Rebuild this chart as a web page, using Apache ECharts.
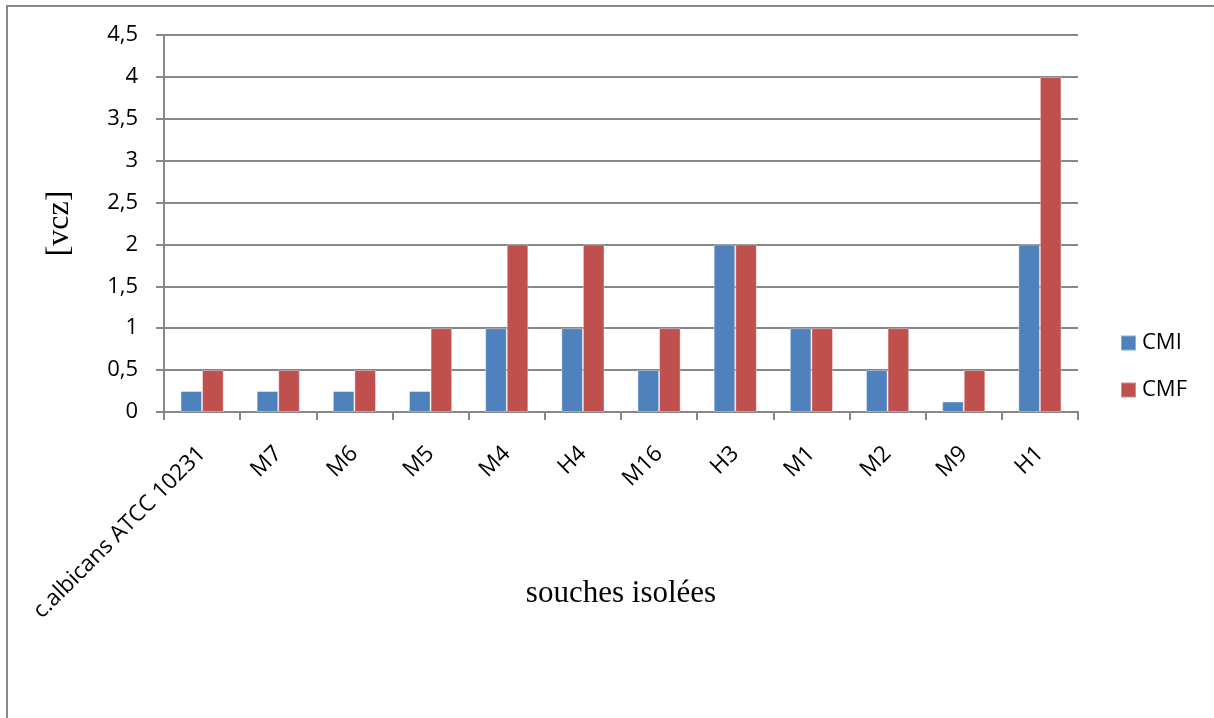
<!DOCTYPE html>
<html>
<head>
<meta charset="utf-8">
<script src="https://cdn.jsdelivr.net/npm/echarts@6/dist/echarts.min.js"></script>
<style>
html,body{margin:0;padding:0;background:#fff;}
#chart{width:1214px;height:718px;}
</style>
</head>
<body>
<div id="chart"></div>
<script>
const categories = ['c.albicans ATCC 10231','M7','M6','M5','M4','H4','M16','H3','M1','M2','M9','H1'];
const cmiValues = [0.25,0.25,0.25,0.25,1,1,0.5,2,1,0.5,0.125,2];
const cmfValues = [0.5,0.5,0.5,1,2,2,1,2,1,1,0.5,4];
const seriesNames = ['CMI','CMF'];
const yAxisTitle = '[vcz]';
const xAxisTitle = 'souches isolées';

const chart = echarts.init(document.getElementById('chart'));
const labelFont = '"Open Sans", Lato, sans-serif';
const serifFont = '"Liberation Serif", "Times New Roman", serif';
const grey = '#878787';
chart.setOption({
  animation: false,
  backgroundColor: '#fff',
  graphic: [{
    type: 'rect',
    shape: {x: 7, y: 6, width: 1230, height: 740},
    style: {fill: 'none', stroke: '#888', lineWidth: 2},
    silent: true
  }],
  legend: {
    orient: 'vertical',
    right: 22,
    top: 327,
    itemWidth: 15,
    itemHeight: 15,
    itemGap: 25,
    icon: 'rect',
    textStyle: {fontFamily: labelFont, fontSize: 22, color: '#000', padding: [0,0,0,1]},
    data: seriesNames
  },
  grid: {left: 164, right: 136, top: 35, bottom: 306, containLabel: false},
  xAxis: {
    type: 'category',
    data: categories,
    boundaryGap: true,
    axisLine: {lineStyle: {color: grey, width: 2}},
    axisTick: {show: true, length: 8, lineStyle: {color: grey, width: 2}, alignWithLabel: false},
    axisLabel: {rotate: 45, interval: 0, margin: 38, fontFamily: labelFont, fontSize: 22.5, color: '#000'},
    name: xAxisTitle,
    nameLocation: 'middle',
    nameGap: 166,
    nameMoveOverlap: false,
    nameTextStyle: {fontFamily: serifFont, fontSize: 31, color: '#000'}
  },
  yAxis: {
    type: 'value',
    min: 0, max: 4.5, interval: 0.5,
    axisLine: {show: true, lineStyle: {color: grey, width: 2}},
    axisTick: {show: true, length: 8, lineStyle: {color: grey, width: 2}},
    splitLine: {lineStyle: {color: grey, width: 2}},
    axisLabel: {margin: 26, fontFamily: labelFont, fontSize: 22, color: '#000',
      formatter: v => String(v).replace('.', ',')},
    name: yAxisTitle,
    nameLocation: 'middle',
    nameGap: 88,
    nameRotate: 90,
    nameMoveOverlap: false,
    nameTextStyle: {fontFamily: serifFont, fontSize: 32, color: '#000'}
  },
  series: [
    {name: seriesNames[0], type: 'bar', data: cmiValues, barWidth: '28.3%', barGap: '0%',
     itemStyle: {color: '#4F81BD', borderColor: 'rgba(255,255,255,0.35)', borderWidth: 1}},
    {name: seriesNames[1], type: 'bar', data: cmfValues, barWidth: '28.3%', barGap: '0%',
     itemStyle: {color: '#C0504D', borderColor: 'rgba(255,255,255,0.35)', borderWidth: 1}}
  ]
});
</script>
</body>
</html>
